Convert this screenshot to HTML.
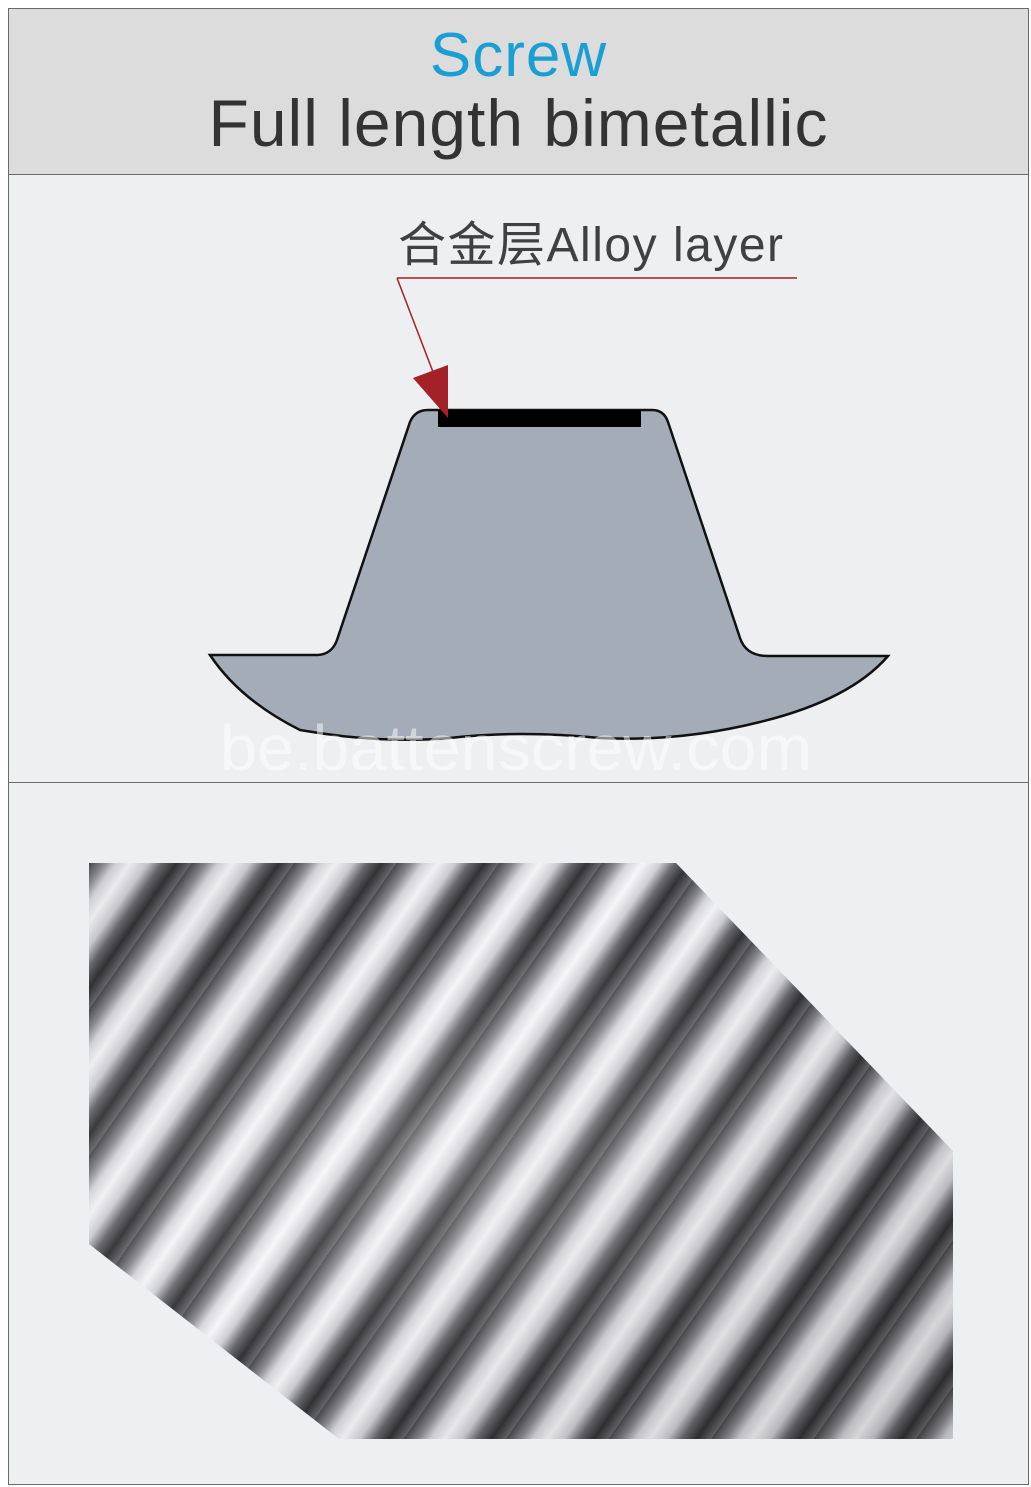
<!DOCTYPE html>
<html><head><meta charset="utf-8"><style>
html,body{margin:0;padding:0;background:#fff;}
body{width:1031px;height:1487px;position:relative;overflow:hidden;font-family:"Liberation Sans","Noto Sans CJK SC",sans-serif;}
.frame{position:absolute;left:8px;top:8px;width:1019px;height:1475px;border:1px solid #6a6a6a;background:#eeeff1;}
.head{position:absolute;left:0;top:0;width:1019px;height:165px;background:#dcdcdc;border-bottom:1px solid #6a6a6a;}
.t1{position:absolute;left:0;width:100%;top:14px;text-align:center;color:#1a9fd4;font-size:62px;line-height:66px;letter-spacing:1px;}
.t2{position:absolute;left:0;width:100%;top:78px;text-align:center;color:#333;font-size:66px;line-height:72px;letter-spacing:1px;}
.sep{position:absolute;left:0;top:773px;width:1019px;height:1px;background:#6a6a6a;}
.photo{position:absolute;left:80px;top:854px;width:864px;height:576px;
clip-path:polygon(0 0,587px 0,864px 288px,864px 576px,250px 576px,0 381px);
background:
radial-gradient(ellipse at 40% 50%,rgba(255,255,255,0.2),rgba(0,0,0,0) 60%),
linear-gradient(135deg,rgba(0,0,0,0.05),rgba(0,0,0,0) 40%,rgba(0,0,0,0.15)),
repeating-linear-gradient(125deg,#4a4a4c 0px,#8c8c90 12px,#d8d8dc 22px,#f6f6f8 34px,#d0d0d4 48px,#6a6a6e 60px,#333335 72px,#6a6a6e 84px);}
</style></head><body>
<div class="frame">
<div class="head"><div class="t1">Screw</div><div class="t2">Full length bimetallic</div></div>
<div class="sep"></div>
<div class="photo"></div>
</div>
<svg width="1031" height="1487" style="position:absolute;left:0;top:0">
<text x="398" y="261" font-size="48" fill="#404040" textLength="385" lengthAdjust="spacing" font-family="Liberation Sans, Noto Sans CJK SC, sans-serif">合金层Alloy layer</text>
<path d="M210,655 L318,655 Q332,654 337,640 L410,422 Q415,410 428,410 L652,410 Q664,410 668,422 L740,638 Q746,656 768,656 L888,656 Q850,700 760,722 Q680,742 600,738 Q520,730 450,738 Q380,744 300,730 Q240,700 210,655 Z" fill="#a4adb7" stroke="#111" stroke-width="2.5"/>
<rect x="438" y="410" width="203" height="17" fill="#000"/>
<line x1="397" y1="278" x2="797" y2="278" stroke="#a32127" stroke-width="1.5"/>
<line x1="397" y1="278" x2="438" y2="385" stroke="#a32127" stroke-width="1.5"/>
<polygon points="448,418 413,378 448,365" fill="#a32127"/>
<text x="516" y="770" text-anchor="middle" font-size="64" textLength="592" lengthAdjust="spacingAndGlyphs" fill="#ffffff" fill-opacity="0.5" font-family="Liberation Sans, sans-serif">be.battenscrew.com</text>
</svg>
</body></html>
